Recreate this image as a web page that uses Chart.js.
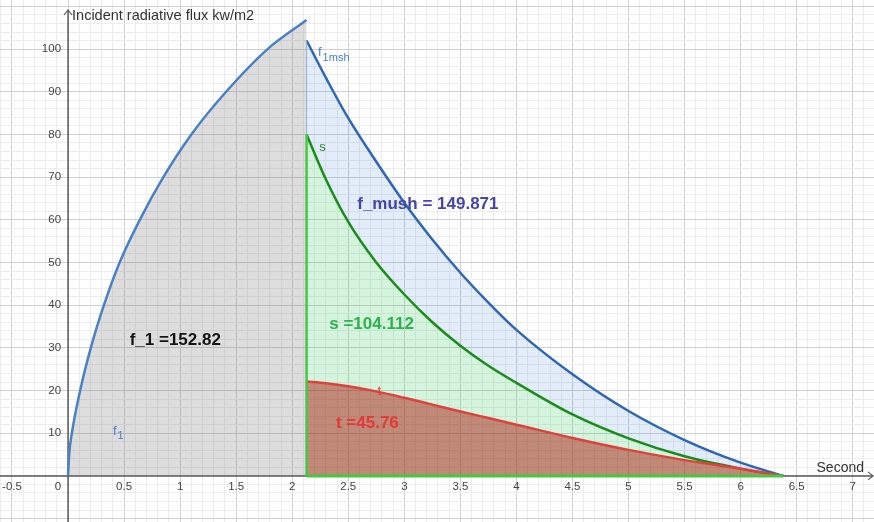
<!DOCTYPE html>
<html>
<head>
<meta charset="utf-8">
<script src="https://cdn.jsdelivr.net/npm/chart.js@4.4.1/dist/chart.umd.min.js"></script>
<style>
  html, body { margin: 0; padding: 0; background: #fff; }
  #wrap { width: 874px; height: 522px; position: relative; }
</style>
</head>
<body>
<div id="wrap"><canvas id="chart"></canvas></div>
<script>
// rising curve f1 (0 .. 2.128 s)
const f1X = [0, 0.010, 0.034, 0.108, 0.203, 0.32, 0.46, 0.64, 0.85, 1.1, 1.41, 1.78, 2.128];
const f1Y = [0, 5, 10, 20, 30, 40, 50, 60, 70, 80, 90, 100, 106.8];

// decaying curves, shared time points (2.128 .. 6.38 s)
const decayX = [2.128, 2.3, 2.5, 2.75, 3.0, 3.25, 3.5, 3.75, 4.0, 4.5, 5.0, 5.5, 6.0, 6.38];
const f1mshY = [102, 93.3, 83.8, 73.6, 64, 55.4, 47.6, 40.6, 34.2, 23.8, 15.2, 8.4, 3.1, 0];
const sY = [80, 69.5, 59.5, 50, 42.5, 36, 30.5, 25.8, 21.8, 14.4, 8.8, 4.6, 1.7, 0];
const tY = [22.1, 21.7, 21.0, 19.8, 18.3, 16.7, 15.1, 13.55, 12.0, 8.9, 6.1, 3.7, 1.7, 0];

// axis tick labels
const xTickLabels = [-0.5, 0.5, 1, 1.5, 2, 2.5, 3, 3.5, 4, 4.5, 5, 5.5, 6, 6.5, 7];
const yTickLabels = [10, 20, 30, 40, 50, 60, 70, 80, 90, 100];

const toPts = (xs, ys) => xs.map((x, i) => ({ x: x, y: ys[i] }));
const split = decayX[0];
const endX = decayX[decayX.length - 1];

// text on the plot, placed in data coordinates
const notes = [
  { text: 'f_1 =152.82', x: 0.55, y: 31.8, color: '#141414' },
  { text: 'f_mush = 149.871', x: 2.58, y: 63.7, color: '#4646a6' },
  { text: 's =104.112', x: 2.33, y: 35.4, color: '#2fb14f' },
  { text: 't =45.76', x: 2.39, y: 12.4, color: '#e23a36' }
];
const curveNames = [
  { main: 'f', sub: '1', x: 0.40, y: 10.5, color: '#4a80c8' },
  { main: 'f', sub: '1msh', x: 2.23, y: 99.2, color: '#4a80c8' },
  { main: 's', sub: '', x: 2.24, y: 77, color: '#2a8a2a' },
  { main: 't', sub: '', x: 2.76, y: 19.9, color: '#e23a36' }
];

const isStep = (v, step) => Math.abs(Math.round(v / step) * step - v) < 1e-6;

const axesPlugin = {
  id: 'axesPlugin',
  beforeDatasetsDraw(chart) {
    const { ctx, chartArea, scales: { x, y } } = chart;
    const x0 = x.getPixelForValue(0);
    const y0 = y.getPixelForValue(0);
    ctx.save();
    ctx.strokeStyle = '#5a5a5a';
    ctx.lineWidth = 1.5;
    ctx.beginPath();
    ctx.moveTo(chartArea.left, y0);
    ctx.lineTo(chartArea.right - 1, y0);
    ctx.moveTo(x0, chartArea.bottom);
    ctx.lineTo(x0, chartArea.top + 10);
    ctx.stroke();
    // arrow heads
    ctx.lineWidth = 1.2;
    ctx.beginPath();
    ctx.moveTo(chartArea.right - 6, y0 - 4);
    ctx.lineTo(chartArea.right - 1, y0);
    ctx.lineTo(chartArea.right - 6, y0 + 4);
    ctx.moveTo(x0 - 4, chartArea.top + 15);
    ctx.lineTo(x0, chartArea.top + 10);
    ctx.lineTo(x0 + 4, chartArea.top + 15);
    ctx.stroke();
    ctx.restore();
  },
  afterDatasetsDraw(chart) {
    const { ctx, chartArea, scales: { x, y } } = chart;
    const x0 = x.getPixelForValue(0);
    const y0 = y.getPixelForValue(0);
    ctx.save();
    ctx.fillStyle = '#444';
    ctx.font = '11.5px "Liberation Sans", Arial, sans-serif';
    ctx.textBaseline = 'middle';
    ctx.textAlign = 'center';
    xTickLabels.forEach(v => ctx.fillText(String(v), x.getPixelForValue(v), y0 + 11));
    ctx.fillText('0', x0 - 10, y0 + 11);
    ctx.textAlign = 'right';
    yTickLabels.forEach(v => ctx.fillText(String(v), x0 - 7, y.getPixelForValue(v)));

    ctx.fillStyle = '#333';
    ctx.font = '14.5px "Liberation Sans", Arial, sans-serif';
    ctx.textAlign = 'left';
    ctx.fillText('Incident radiative flux kw/m2', x0 + 4, chartArea.top + 16);
    ctx.font = '14px "Liberation Sans", Arial, sans-serif';
    ctx.textAlign = 'right';
    ctx.fillText('Second', chartArea.right - 10, y0 - 8);

    ctx.textAlign = 'left';
    ctx.font = 'bold 17px "Liberation Sans", Arial, sans-serif';
    notes.forEach(n => {
      ctx.fillStyle = n.color;
      ctx.fillText(n.text, x.getPixelForValue(n.x), y.getPixelForValue(n.y));
    });

    curveNames.forEach(n => {
      const px = x.getPixelForValue(n.x);
      const py = y.getPixelForValue(n.y);
      ctx.fillStyle = n.color;
      ctx.font = '13px "Liberation Sans", Arial, sans-serif';
      ctx.fillText(n.main, px, py);
      if (n.sub) {
        const w = ctx.measureText(n.main).width;
        ctx.font = '11px "Liberation Sans", Arial, sans-serif';
        ctx.fillText(n.sub, px + w + 1, py + 5);
      }
    });
    ctx.restore();
  }
};

const curve = {
  pointRadius: 0,
  pointHoverRadius: 0,
  borderWidth: 2.5,
  cubicInterpolationMode: 'monotone'
};

new Chart(document.getElementById('chart'), {
  type: 'line',
  data: {
    datasets: [
      { // 0: bright green edge, vertical
        data: [{ x: split, y: 0 }, { x: split, y: sY[0] }],
        borderColor: '#46c846', borderWidth: 2.5, pointRadius: 0, fill: false, order: 0
      },
      { // 1: bright green edge, along the time axis
        data: [{ x: split, y: 0 }, { x: endX, y: 0 }],
        borderColor: '#46c846', borderWidth: 3, pointRadius: 0, fill: false, order: 0
      },
      { // 2: thin blue edge above s
        data: [{ x: split, y: sY[0] }, { x: split, y: f1mshY[0] }],
        borderColor: '#8fb2dd', borderWidth: 1, pointRadius: 0, fill: false, order: 0
      },
      { ...curve, label: 't', data: toPts(decayX, tY),
        borderColor: '#e0413b', backgroundColor: 'rgba(140,40,10,0.55)', fill: 'origin', order: 1 },
      { ...curve, label: 's', data: toPts(decayX, sY),
        borderColor: '#1a8c1a', backgroundColor: 'rgba(40,200,90,0.2)', fill: 3, order: 2 },
      { ...curve, label: 'f1msh', data: toPts(decayX, f1mshY),
        borderColor: '#2f66b5', backgroundColor: 'rgba(60,120,210,0.14)', fill: 4, order: 3 },
      { ...curve, label: 'f1', data: toPts(f1X, f1Y),
        borderColor: '#4a80c8', backgroundColor: 'rgba(120,120,120,0.25)', fill: 'origin', order: 4 }
    ]
  },
  options: {
    responsive: true,
    maintainAspectRatio: false,
    animation: false,
    events: [],
    layout: { padding: 0 },
    plugins: {
      legend: { display: false },
      tooltip: { enabled: false }
    },
    scales: {
      x: {
        type: 'linear',
        min: -0.607,
        max: 7.19,
        border: { display: false },
        ticks: { display: false, stepSize: 0.1, includeBounds: false, maxTicksLimit: 1000, autoSkip: false },
        grid: {
          drawTicks: false,
          color: c => (c.tick && isStep(c.tick.value, 0.5)) ? '#d0d0d0' : '#ededed'
        }
      },
      y: {
        type: 'linear',
        min: -10.8,
        max: 111.5,
        border: { display: false },
        ticks: { display: false, stepSize: 2, includeBounds: false, maxTicksLimit: 1000, autoSkip: false },
        grid: {
          drawTicks: false,
          color: c => (c.tick && isStep(c.tick.value, 10)) ? '#d0d0d0' : '#ededed'
        }
      }
    }
  },
  plugins: [axesPlugin]
});
</script>
</body>
</html>
